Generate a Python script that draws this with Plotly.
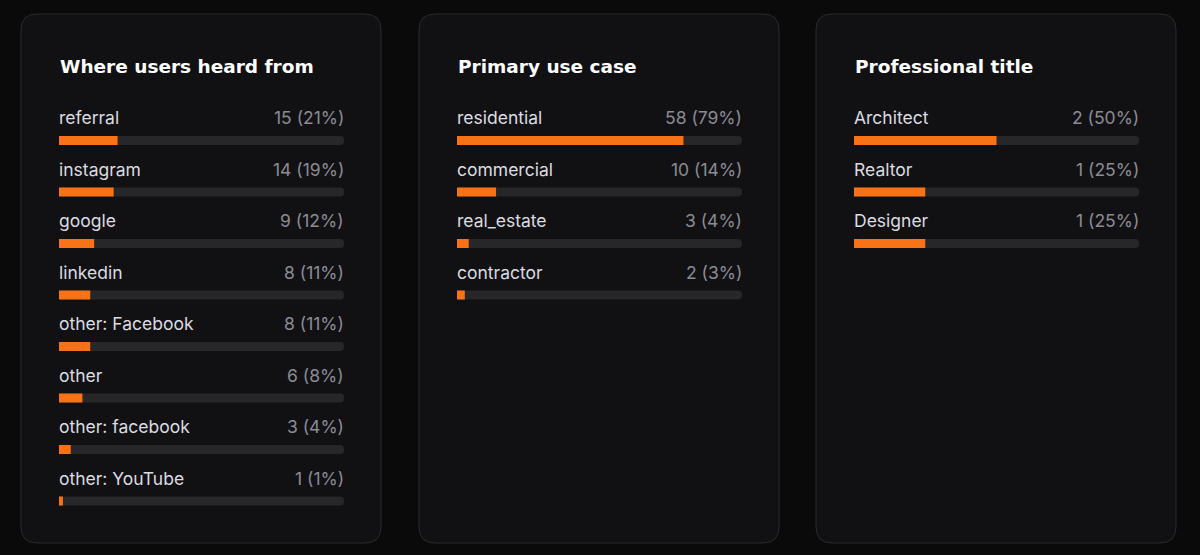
"""
Survey breakdown cards: three panels of horizontal progress bars on a dark theme.
"""
import plotly.graph_objects as go

# --- DATA ---
TITLES = ["Where users heard from", "Primary use case", "Professional title"]

HEARD_LABELS = ["referral", "instagram", "google", "linkedin", "other: Facebook",
                "other", "other: facebook", "other: YouTube"]
HEARD_COUNTS = [15, 14, 9, 8, 8, 6, 3, 1]
HEARD_TOTAL = 73

USE_LABELS = ["residential", "commercial", "real_estate", "contractor"]
USE_COUNTS = [58, 10, 3, 2]
USE_TOTAL = 73

TITLE_LABELS = ["Architect", "Realtor", "Designer"]
TITLE_COUNTS = [2, 1, 1]
TITLE_TOTAL = 4

# --- STYLE ---
W, H = 1200, 555
PAGE_BG = "#0a0a0b"
CARD_BG = "#111113"
CARD_BORDER = "#2a2a2d"
TRACK = "#27272a"
ORANGE = "#f97316"
LABEL_COLOR = "#dcdce0"
VALUE_COLOR = "#8b8b93"
FONT = "Inter"
TITLE_FONT = "DejaVu Sans"

CARD_LEFT = [21, 419, 816]      # px
CARD_WIDTH = 360
CARD_TOP, CARD_BOTTOM = 14, 543
TRACK_INSET = 38                # track starts 38px inside card
TRACK_WIDTH = 285
ROW_PX = 51.5
FIRST_BAR_PX = 140.5
Y_RANGE = [-0.8, 7.6]


def px_x(px):
    return px / W


def px_y(py):
    return 1 - py / H


def rounded_rect(x0, y0, x1, y1, r):
    """SVG path of a rounded rectangle in paper coords (from pixel values)."""
    rx, ry = r / W, r / H
    a, b, c, d = px_x(x0), px_x(x1), px_y(y0), px_y(y1)
    return (f"M {a + rx},{c} L {b - rx},{c} Q {b},{c} {b},{c - ry} "
            f"L {b},{d + ry} Q {b},{d} {b - rx},{d} L {a + rx},{d} "
            f"Q {a},{d} {a},{d + ry} L {a},{c - ry} Q {a},{c} {a + rx},{c} Z")


cards = [
    (HEARD_LABELS, HEARD_COUNTS, HEARD_TOTAL),
    (USE_LABELS, USE_COUNTS, USE_TOTAL),
    (TITLE_LABELS, TITLE_COUNTS, TITLE_TOTAL),
]

fig = go.Figure()

top_px = FIRST_BAR_PX + Y_RANGE[0] * ROW_PX
bottom_px = FIRST_BAR_PX + Y_RANGE[1] * ROW_PX
y_domain = [px_y(bottom_px), px_y(top_px)]

shapes = []
annotations = []
bar_width = 9 / ROW_PX

for i, (labels, counts, total) in enumerate(cards):
    n = i + 1
    xa = "x" if n == 1 else f"x{n}"
    ya = "y" if n == 1 else f"y{n}"
    rows = list(range(len(labels)))
    pcts = [c / total * 100 for c in counts]

    # background track
    fig.add_trace(go.Bar(
        x=[100] * len(rows), y=rows, orientation="h", width=bar_width,
        marker=dict(color=TRACK, line=dict(width=0)),
        xaxis=xa, yaxis=ya, showlegend=False, hoverinfo="skip"))
    # filled portion
    fig.add_trace(go.Bar(
        x=pcts, y=rows, orientation="h", width=bar_width,
        marker=dict(color=ORANGE, line=dict(width=0)),
        xaxis=xa, yaxis=ya, showlegend=False,
        customdata=counts,
        hovertemplate="%{customdata} (%{x:.0f}%)<extra></extra>"))

    left = CARD_LEFT[i] + TRACK_INSET
    x_dom = [px_x(left), px_x(left + TRACK_WIDTH)]
    fig.layout[f"xaxis{'' if n == 1 else n}"] = dict(
        domain=x_dom, range=[0, 100], visible=False, fixedrange=True,
        anchor=ya)
    fig.layout[f"yaxis{'' if n == 1 else n}"] = dict(
        domain=y_domain, range=[Y_RANGE[1], Y_RANGE[0]], visible=False,
        fixedrange=True, anchor=xa)

    # card
    shapes.append(dict(
        type="path", xref="paper", yref="paper", layer="below",
        path=rounded_rect(CARD_LEFT[i], CARD_TOP, CARD_LEFT[i] + CARD_WIDTH,
                          CARD_BOTTOM, 16),
        fillcolor=CARD_BG, line=dict(color=CARD_BORDER, width=1)))

    # title
    annotations.append(dict(
        text=f"<b>{TITLES[i]}</b>", xref="paper", yref="paper",
        x=px_x(left - 1), y=px_y(66), xanchor="left", yanchor="middle",
        showarrow=False,
        font=dict(family=TITLE_FONT, size=18.5, color="#ffffff")))

    for r, (lab, cnt, pct) in enumerate(zip(labels, counts, pcts)):
        annotations.append(dict(
            text=lab, xref=xa, yref=ya, x=0, y=r - 0.44,
            xanchor="left", yanchor="middle", showarrow=False,
            xshift=-2,
            font=dict(family=FONT, size=17.5, color=LABEL_COLOR)))
        annotations.append(dict(
            text=f"{cnt} ({pct:.0f}%)", xref=xa, yref=ya, x=100, y=r - 0.44,
            xanchor="right", yanchor="middle", showarrow=False,
            xshift=2,
            font=dict(family=FONT, size=17.5, color=VALUE_COLOR)))

fig.update_layout(
    width=W, height=H,
    margin=dict(l=0, r=0, t=0, b=0),
    paper_bgcolor=PAGE_BG,
    plot_bgcolor="rgba(0,0,0,0)",
    barmode="overlay",
    barcornerradius=4,
    shapes=shapes,
    annotations=annotations,
    showlegend=False,
    font=dict(family=FONT, color=LABEL_COLOR),
)

# drop the browser's default page margin so the figure sits at 0,0
fig.write_html(
    "out.html",
    config={"displayModeBar": False},
    post_script="document.body.style.margin='0';"
                "document.body.style.background='#0a0a0b';",
)
